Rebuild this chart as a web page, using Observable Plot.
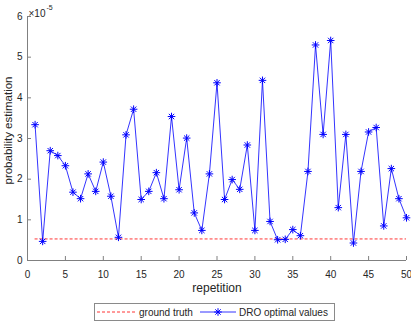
<!DOCTYPE html>
<html>
<head>
<meta charset="utf-8">
<script src="https://cdn.jsdelivr.net/npm/d3@7"></script>
<script src="https://cdn.jsdelivr.net/npm/@observablehq/plot@0.6"></script>
<style>
  body { margin: 0; background: #fff; font-family: "Liberation Sans", Arial, sans-serif; }
  #wrap { position: relative; width: 411px; height: 323px; }
  #legend { position: absolute; left: 94px; top: 303px; width: 241px; height: 18px; border: 1px solid #8a8a8a; background: #fff; box-sizing: border-box; }
</style>
</head>
<body>
<div id="wrap"><div id="chart"></div><div id="legend"></div></div>
<script>
// values in units of 1e-5
const repetitions = d3.range(1, 51);
const droValues = [3.34, 0.47, 2.70, 2.58, 2.33, 1.68, 1.52, 2.13, 1.70, 2.42,
  1.58, 0.57, 3.09, 3.72, 1.50, 1.70, 2.16, 1.52, 3.54, 1.74,
  3.01, 1.17, 0.74, 2.13, 4.37, 1.50, 1.99, 1.75, 2.84, 0.74,
  4.43, 0.96, 0.51, 0.52, 0.76, 0.61, 2.19, 5.30, 3.10, 5.41,
  1.30, 3.10, 0.43, 2.19, 3.16, 3.27, 0.85, 2.26, 1.52, 1.05];
const groundTruth = 0.53;
const xTicks = [0, 5, 10, 15, 20, 25, 30, 35, 40, 45, 50];
const yTicks = [0, 1, 2, 3, 4, 5, 6];
const seriesNames = ["ground truth", "DRO optimal values"];

const data = repetitions.map((r, i) => ({r, v: droValues[i]}));

const star8 = {
  draw(ctx, size) {
    const r = Math.sqrt(size / Math.PI);
    const d = r * Math.SQRT1_2;
    ctx.moveTo(-r, 0); ctx.lineTo(r, 0);
    ctx.moveTo(0, -r); ctx.lineTo(0, r);
    ctx.moveTo(-d, -d); ctx.lineTo(d, d);
    ctx.moveTo(-d, d); ctx.lineTo(d, -d);
  }
};

const font = "Liberation Sans, Arial, sans-serif";
const textColor = "#262626";
const axisColor = "#808080";

const chart = Plot.plot({
  width: 411,
  height: 300,
  marginLeft: 27,
  marginRight: 5,
  marginTop: 16,
  marginBottom: 40,
  style: {fontFamily: font, fontSize: "10px", color: textColor, background: "#fff"},
  x: {domain: [0, 50]},
  y: {domain: [0, 6]},
  marks: [
    Plot.ruleY([groundTruth], {x1: 1, x2: 50, stroke: "#ff0000", strokeWidth: 0.8, strokeDasharray: "3,2"}),
    Plot.line(data, {x: "r", y: "v", stroke: "#0000ff", strokeWidth: 0.8}),
    Plot.dot(data, {x: "r", y: "v", symbol: star8, r: 3.8, stroke: "#0000ff", strokeWidth: 1, fill: "none"}),
    Plot.ruleY([0], {stroke: axisColor}),
    Plot.ruleX([0], {stroke: axisColor}),
    Plot.axisX(xTicks, {tickSize: -4, tickPadding: 14, stroke: axisColor, fill: textColor, label: null, fontSize: 10}),
    Plot.axisY(yTicks, {tickSize: -4, tickPadding: 9, stroke: axisColor, fill: textColor, label: null, fontSize: 10}),
    Plot.text(["repetition"], {frameAnchor: "bottom", dy: 31, fill: textColor, fontSize: 12}),
    Plot.text(["probability estimation"], {frameAnchor: "left", textAnchor: "middle", lineAnchor: "middle", dx: -19, dy: -8, rotate: -90, fill: textColor, fontSize: 11.5}),
    Plot.text(["×10"], {frameAnchor: "top-left", dx: 1, dy: -7, textAnchor: "start", fill: textColor, fontSize: 10}),
    Plot.text(["-5"], {frameAnchor: "top-left", dx: 19, dy: -11, textAnchor: "start", fill: textColor, fontSize: 7})
  ]
});
document.getElementById("chart").appendChild(chart);

// legend
const lg = d3.select("#legend").append("svg").attr("width", 239).attr("height", 16)
  .style("display", "block").style("font-family", font).style("font-size", "10px");
lg.append("line").attr("x1", 2).attr("x2", 42).attr("y1", 8).attr("y2", 8)
  .attr("stroke", "#ff0000").attr("stroke-width", 0.8).attr("stroke-dasharray", "3,2");
lg.append("text").attr("x", 44).attr("y", 11.5).attr("fill", textColor).text(seriesNames[0]);
lg.append("line").attr("x1", 105).attr("x2", 141).attr("y1", 8).attr("y2", 8)
  .attr("stroke", "#0000ff").attr("stroke-width", 0.8);
lg.append("path").attr("d", d3.symbol(star8, Math.PI * 3.8 * 3.8)()).attr("transform", "translate(123,8)")
  .attr("stroke", "#0000ff").attr("fill", "none");
lg.append("text").attr("x", 144).attr("y", 11.5).attr("fill", textColor).text(seriesNames[1]);
</script>
</body>
</html>
